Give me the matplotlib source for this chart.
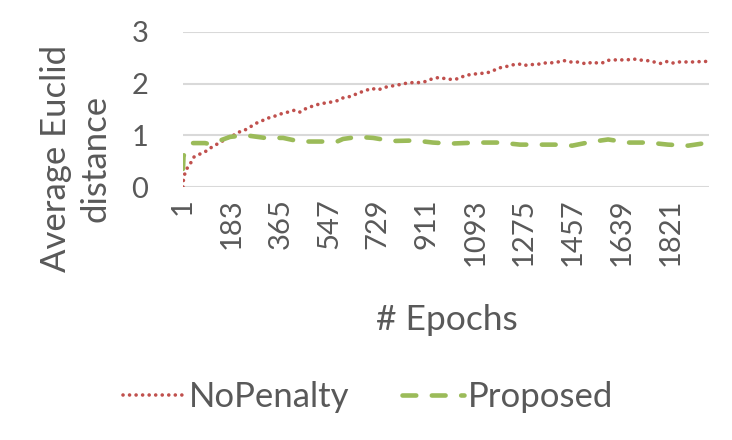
import numpy as np
import matplotlib
matplotlib.use("Agg")
import matplotlib.pyplot as plt

FONT = "Lato"
GREY = "#595959"

# NoPenalty series (epoch, average euclid distance)
nopen_epoch = [1, 3, 12, 27, 42, 65, 83, 102, 121, 143, 165, 187, 206, 225, 251,
               277, 296, 314, 333, 363, 393, 420, 438, 457, 487, 513, 550, 577,
               595, 633, 655, 681, 704, 730, 756, 775, 801, 823, 857, 879, 905,
               935, 958, 987, 1010, 1032, 1055, 1081, 1111, 1130, 1156, 1178,
               1197, 1216, 1238, 1257, 1272, 1298, 1324, 1346, 1372, 1402, 1421,
               1447, 1473, 1492, 1511, 1529, 1548, 1567, 1586, 1608, 1634, 1660,
               1683, 1701, 1727, 1746, 1768, 1787, 1810, 1832, 1851, 1884, 1914,
               1940, 1966]
nopen_val = [0.0, 0.17, 0.33, 0.44, 0.58, 0.64, 0.68, 0.75, 0.81, 0.87, 0.95, 0.99,
             1.06, 1.08, 1.16, 1.24, 1.28, 1.33, 1.35, 1.41, 1.45, 1.49, 1.45, 1.51,
             1.57, 1.61, 1.64, 1.67, 1.72, 1.76, 1.82, 1.86, 1.91, 1.88, 1.93, 1.95,
             1.97, 2.00, 2.02, 2.02, 2.04, 2.10, 2.12, 2.09, 2.08, 2.10, 2.16, 2.18,
             2.20, 2.20, 2.24, 2.30, 2.32, 2.34, 2.37, 2.38, 2.35, 2.37, 2.37, 2.40,
             2.40, 2.42, 2.45, 2.42, 2.42, 2.40, 2.38, 2.42, 2.40, 2.40, 2.45, 2.46,
             2.46, 2.46, 2.48, 2.46, 2.45, 2.44, 2.41, 2.39, 2.43, 2.40, 2.42, 2.42,
             2.42, 2.43, 2.43]

# Proposed series
prop_epoch = [1, 3, 20, 38, 83, 102, 150, 177, 214, 251, 307, 375, 438, 513, 577,
              599, 655, 711, 782, 868, 935, 999, 1100, 1185, 1260, 1328, 1391,
              1455, 1522, 1589, 1664, 1739, 1813, 1888, 1966]
prop_val = [0.35, 0.6, 0.77, 0.85, 0.85, 0.83, 0.92, 0.97, 0.99, 0.99, 0.95, 0.95,
            0.88, 0.88, 0.88, 0.93, 0.97, 0.95, 0.89, 0.90, 0.86, 0.84, 0.86, 0.86,
            0.82, 0.82, 0.82, 0.80, 0.87, 0.92, 0.86, 0.86, 0.82, 0.80, 0.86]

xticks = [1, 183, 365, 547, 729, 911, 1093, 1275, 1457, 1639, 1821]
yticks = [0, 1, 2, 3]

fig = plt.figure(figsize=(7.32, 4.40), dpi=100)
ax = fig.add_axes([183 / 732, 1 - 187 / 440, (709 - 183) / 732, (187 - 32) / 440])

ax.plot(nopen_epoch, nopen_val, color="#C0504D", lw=2.6,
        linestyle=(0, (0.01, 1.8)), dash_capstyle="round", label="NoPenalty", zorder=3)
ax.plot(prop_epoch, prop_val, color="#9BBB59", lw=3.3,
        linestyle=(0, (3.0, 3.4)), dash_capstyle="round", label="Proposed", zorder=3)

ax.set_xlim(1, 1966)
ax.set_ylim(0, 3)
ax.set_xticks(xticks)
ax.set_xticklabels([str(t) for t in xticks], rotation=90, fontfamily=FONT,
                   fontsize=21, color=GREY)
ax.set_yticks(yticks)
ax.set_yticklabels([str(t) for t in yticks], fontfamily=FONT, fontsize=21, color=GREY)
ax.tick_params(axis="x", length=0, pad=8)
ax.tick_params(axis="y", length=0, pad=25)
ax.grid(axis="y", color="#D9D9D9", lw=1.5)
ax.set_axisbelow(True)
for s in ax.spines.values():
    s.set_visible(False)

fig.text(447 / 732, 1 - 320 / 440, "# Epochs", ha="center", va="center",
         fontfamily=FONT, fontsize=25.5, color=GREY)
fig.text(76 / 732, 1 - 158 / 440, "Average Euclid\ndistance", ha="center", va="center",
         rotation=90, fontfamily=FONT, fontsize=25, color=GREY, linespacing=1.3)

leg = fig.legend(loc="center", bbox_to_anchor=(368 / 732, 1 - 397 / 440), ncol=2,
                 frameon=False, prop={"family": FONT, "size": 25},
                 handlelength=1.8, handletextpad=0.1, columnspacing=1.5)
for t in leg.get_texts():
    t.set_color(GREY)

fig.savefig("out.png", dpi=100)
